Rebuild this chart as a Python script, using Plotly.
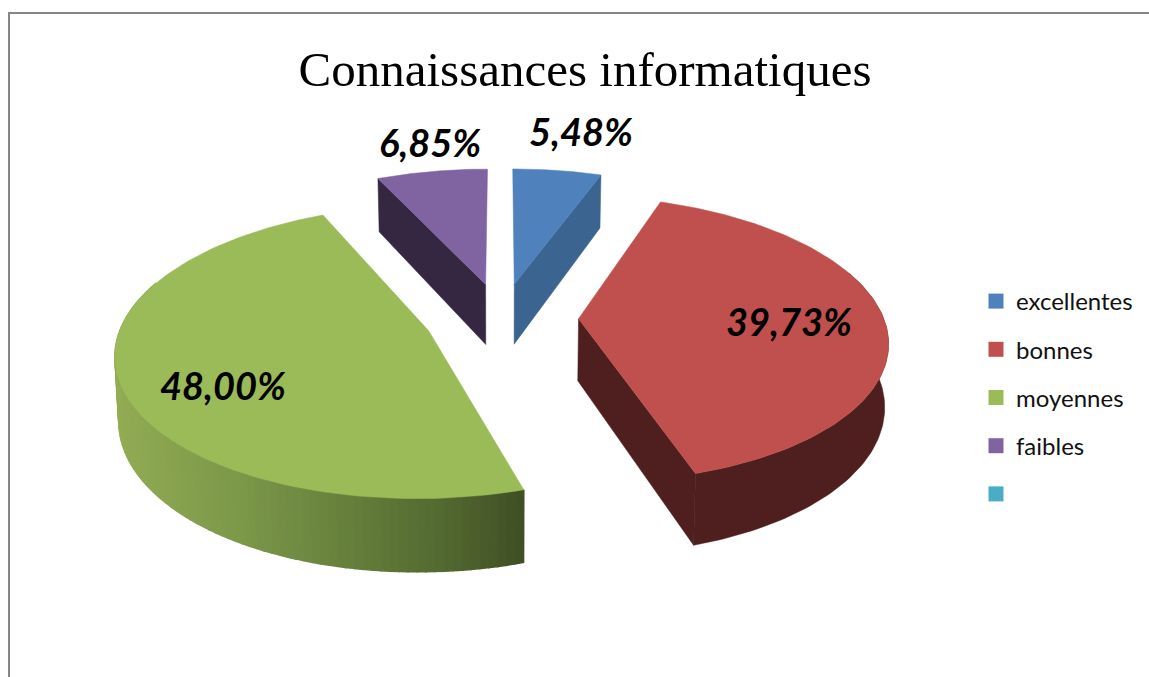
import numpy as np
import plotly.graph_objects as go

CATEGORIES = ["excellentes", "bonnes", "moyennes", "faibles", " "]
VALUES = [5.48, 39.73, 48.00, 6.85]
LABELS = ["5,48%", "39,73%", "48,00%", "6,85%"]
TOP_COLORS = ["#4f81bd", "#c0504d", "#9bbb59", "#8064a2", "#4bacc6"]
WALL_COLORS = ["#3b6491", "#4e1f1e", "#7f9c48", "#352742"]

# label centres in px, the chart has no real axes
LABEL_X = [581, 789, 223, 430]
LABEL_Y = [131, 321, 385, 142]

# perspective pie geometry (px)
CX, CY = 501.5, 318
RADIUS = 305
EXPLODE = 77
TILT = 0.46
PERSP = 0.00046
DEPTH = 62


def project(x, z, drop=0.0):
    # z > 0 goes away from the viewer
    p = 1 / (1 + PERSP * z)
    shrink = 0.99 if drop else 1.0
    return CX + x * p * shrink, CY - z * TILT * p + drop * p


def polygon(xs, ys, color, width=0.5):
    return go.Scatter(
        x=xs, y=ys, mode="lines", fill="toself", fillcolor=color,
        line=dict(color=color, width=width), hoverinfo="skip", showlegend=False
    )


def green_shade(sx):
    stops_x = [115, 250, 350, 450, 524]
    stops_r = [146, 122, 102, 82, 64]
    stops_g = [172, 150, 128, 104, 80]
    stops_b = [84, 72, 60, 48, 36]
    r = np.interp(sx, stops_x, stops_r)
    g = np.interp(sx, stops_x, stops_g)
    b = np.interp(sx, stops_x, stops_b)
    return f"rgb({r:.0f},{g:.0f},{b:.0f})"


fig = go.Figure()

total = sum(VALUES)
start = 0.0
wedges = []
for i, v in enumerate(VALUES):
    a0 = start
    a1 = start + 2 * np.pi * v / total
    start = a1
    mid = (a0 + a1) / 2
    wedges.append((i, a0, a1, EXPLODE * np.sin(mid), EXPLODE * np.cos(mid)))

# back pieces first
for i, a0, a1, ox, oz in sorted(wedges, key=lambda w: -w[4]):
    th = np.linspace(a0, a1, 120)
    wx = ox + RADIUS * np.sin(th)
    wz = oz + RADIUS * np.cos(th)

    # side walls along the two radial cuts, only if they face the viewer
    for ang, sign in ((a0, -1), (a1, 1)):
        if -sign * np.sin(ang) < 0:
            ex, ez = ox + RADIUS * np.sin(ang), oz + RADIUS * np.cos(ang)
            p1 = project(ox, oz)
            p2 = project(ex, ez)
            p3 = project(ex, ez, DEPTH)
            p4 = project(ox, oz, DEPTH)
            fig.add_trace(polygon(
                [p1[0], p2[0], p3[0], p4[0], p1[0]],
                [p1[1], p2[1], p3[1], p4[1], p1[1]], WALL_COLORS[i]
            ))

    # outer rim: one piece, except the green one which carries a gradient
    # starts a bit behind the widest point, the top face hides the extra part
    front = np.cos(th) <= 0.35
    if i == 2:
        idx = np.where(front)[0]
        for j in idx[:-1]:
            t = project(wx[j:j + 2], wz[j:j + 2])
            b = project(wx[j:j + 2], wz[j:j + 2], DEPTH)
            fig.add_trace(polygon(
                [t[0][0], t[0][1], b[0][1], b[0][0], t[0][0]],
                [t[1][0], t[1][1], b[1][1], b[1][0], t[1][0]],
                green_shade(t[0][0]), width=1.5
            ))
    elif front.any() and np.sin(th[front]).min() > -2:
        t = project(wx[front], wz[front])
        b = project(wx[front], wz[front], DEPTH)
        fig.add_trace(polygon(
            np.r_[t[0], b[0][::-1], t[0][0]],
            np.r_[t[1], b[1][::-1], t[1][0]], WALL_COLORS[i]
        ))

    # top face
    sx, sy = project(np.r_[ox, wx, ox], np.r_[oz, wz, oz])
    fig.add_trace(polygon(sx, sy, TOP_COLORS[i]))

for x, y, text in zip(LABEL_X, LABEL_Y, LABELS):
    fig.add_annotation(
        x=x, y=y, text=f"<b><i>{text}</i></b>", showarrow=False,
        font=dict(family="Lato", size=38, color="black")
    )

for name, color in zip(CATEGORIES, TOP_COLORS):
    fig.add_trace(go.Scatter(
        x=[None], y=[None], mode="markers", name=name, legendgroup=name,
        marker=dict(symbol="square", size=15, color=color)
    ))

fig.update_layout(
    width=1149, height=677, margin=dict(l=0, r=0, t=0, b=0),
    paper_bgcolor="white", plot_bgcolor="white",
    xaxis=dict(range=[0, 1149], visible=False, fixedrange=True),
    yaxis=dict(range=[677, 0], visible=False, fixedrange=True),
    title=dict(
        text="Connaissances informatiques", x=585 / 1149, xanchor="center",
        y=1 - 69 / 677, yanchor="middle",
        font=dict(family="Liberation Serif", size=49, color="black")
    ),
    legend=dict(
        x=976 / 1149, xanchor="left", y=1 - 279 / 677, yanchor="top",
        tracegroupgap=14, itemwidth=30,
        font=dict(family="Lato", size=24, color="#111111"),
        bgcolor="rgba(0,0,0,0)"
    ),
    shapes=[
        dict(type="line", x0=8, x1=1149, y0=13, y1=13,
             line=dict(color="#868686", width=2)),
        dict(type="line", x0=9, x1=9, y0=13, y1=677,
             line=dict(color="#868686", width=2)),
    ],
)

# the page's default 8px body margin would push the whole chart off
fig.write_html(
    "out.html", config=dict(displayModeBar=False),
    post_script="document.body.style.margin='0';document.body.style.overflow='hidden';"
)
